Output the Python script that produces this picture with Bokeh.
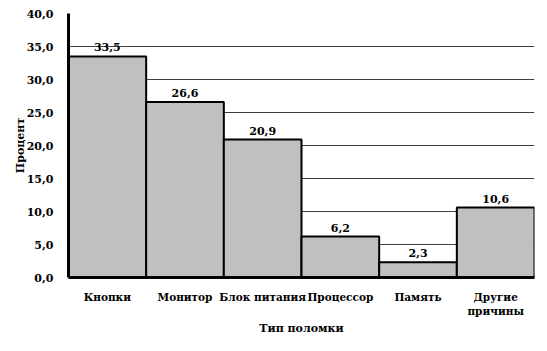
from bokeh.plotting import figure
from bokeh.models import ColumnDataSource, FixedTicker, Range1d, LabelSet
from bokeh.core.properties import value
from bokeh.embed import file_html
from bokeh.resources import INLINE

categories = ["Кнопки", "Монитор", "Блок питания", "Процессор", "Память", "Другие\nпричины"]
values = [33.5, 26.6, 20.9, 6.2, 2.3, 10.6]
value_labels = ["33,5", "26,6", "20,9", "6,2", "2,3", "10,6"]
y_ticks = [0, 5, 10, 15, 20, 25, 30, 35, 40]
y_tick_labels = ["0,0", "5,0", "10,0", "15,0", "20,0", "25,0", "30,0", "35,0", "40,0"]

FONT = "DejaVu Serif"
FS = "11px"
FSX = "10.5px"
xs = [i + 0.5 for i in range(len(categories))]
src = ColumnDataSource(dict(x=xs, top=values, lab=value_labels))

p = figure(frame_width=466, frame_height=264, output_backend="svg", toolbar_location=None,
           x_range=Range1d(0, len(categories)), y_range=Range1d(0, 40),
           min_border_left=68, min_border_right=13, min_border_top=13, min_border_bottom=74)
p.outline_line_color = None
p.background_fill_color = "white"
p.border_fill_color = "white"

p.vbar(x="x", top="top", width=1.0, source=src, fill_color="#c0c0c0",
       line_color="black", line_width=2)

labels = LabelSet(x="x", y="top", text="lab", source=src, text_align="center",
                  text_baseline="bottom", y_offset=5, text_font=value(FONT),
                  text_font_style="bold", text_font_size=value(FS), text_color="black")
p.add_layout(labels)

p.xgrid.grid_line_color = None
p.ygrid.ticker = FixedTicker(ticks=y_ticks)
p.ygrid.grid_line_color = "#404040"
p.ygrid.grid_line_width = 1

p.yaxis.ticker = FixedTicker(ticks=y_ticks)
p.yaxis.major_label_overrides = {t: l for t, l in zip(y_ticks, y_tick_labels)}
p.xaxis.ticker = FixedTicker(ticks=xs)
p.xaxis.major_label_overrides = {x: c for x, c in zip(xs, categories)}

for ax in (p.xaxis, p.yaxis):
    ax.axis_line_width = 3
    ax.axis_line_color = "black"
    ax.major_tick_line_color = None
    ax.minor_tick_line_color = None
    ax.major_label_text_font = FONT
    ax.major_label_text_font_style = "bold"
    ax.major_label_text_font_size = FS
    ax.major_label_text_color = "black"
    ax.axis_label_text_font = FONT
    ax.axis_label_text_font_style = "bold"
    ax.axis_label_text_font_size = FS
    ax.axis_label_text_color = "black"

p.xaxis.major_label_text_font_size = FSX
p.xaxis.axis_label = "Тип поломки"
p.yaxis.axis_label = "Процент"
p.xaxis.major_label_standoff = 7
p.yaxis.major_label_standoff = 9
p.xaxis.axis_label_standoff = 2
p.yaxis.axis_label_standoff = -3

open("out.html", "w").write(file_html(p, INLINE))
